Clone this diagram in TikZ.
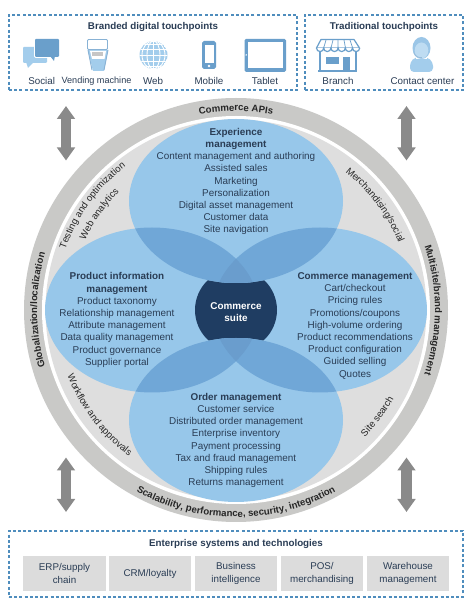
\documentclass[tikz,border=0pt]{standalone}
\usepackage{fontspec}
\setmainfont{Liberation Sans}
\usetikzlibrary{arrows.meta,decorations.text}
\definecolor{txt}{HTML}{2A3D55}
\definecolor{lblue}{HTML}{97C7EA}
\definecolor{mblue}{HTML}{70A7D7}
\definecolor{tblue}{HTML}{6A9DCD}
\definecolor{navy}{HTML}{1F3D62}
\definecolor{ringg}{HTML}{C9C9C7}
\definecolor{discg}{HTML}{DEDEDE}
\definecolor{arrowg}{HTML}{8A8A8A}
\definecolor{dashb}{HTML}{4F8DBD}
\definecolor{icond}{HTML}{6A9FCB}
\definecolor{iconl}{HTML}{A3CDEC}
\definecolor{boxg}{HTML}{DCDCDC}
\newcommand{\bsize}{\fontsize{9.9}{12.2}\selectfont}
\newcommand{\tsize}{\fontsize{9.8}{12.2}\selectfont}
\newcommand{\rsize}{\fontsize{9.6}{12}\selectfont}
\newcommand{\vendsize}{\fontsize{9.1}{12}\selectfont}
\newcommand{\elT}{(236,399) ellipse [x radius=107,y radius=82]}
\newcommand{\elB}{(236,180) ellipse [x radius=107,y radius=82]}
\newcommand{\elL}{(152,290) ellipse [x radius=107,y radius=82.5]}
\newcommand{\elR}{(320,290) ellipse [x radius=107,y radius=82.5]}
\tikzset{
  x=1pt,y=1pt,
  dashbox/.style={draw=dashb,line width=1.2pt,dash pattern=on 3pt off 2.2pt},
  head/.style={font=\bfseries\tsize,text=txt,inner sep=0pt},
  label/.style={font=\tsize,text=txt,inner sep=0pt},
  block/.style={font=\bsize,text=txt,align=center,inner sep=0pt},
  sysbox/.style={fill=boxg,font=\tsize,text=txt,align=center,inner sep=0pt},
  dbl/.style={draw=arrowg,line width=10.5pt,{Triangle[width=17.5pt,length=13pt]}-{Triangle[width=17.5pt,length=13pt]}},
  ringtext/.style={decorate,decoration={text along path,text align=center,text color=black!85,text={#1}}},
}
\begin{document}
\begin{tikzpicture}
\useasboundingbox (0,0) rectangle (474,600);
\fill[white] (0,0) rectangle (474,600);
\coordinate (c) at (236,290);
% top boxes
\node[dashbox,minimum width=288,minimum height=75,inner sep=0pt] (dig) at (153,547.5) {};
\node[dashbox,minimum width=158,minimum height=75,inner sep=0pt] (trad) at (384,547.5) {};
\node[head] (digt) at (153,573) {Branded digital touchpoints};
\node[head] (tradt) at (384,573) {Traditional touchpoints};
\node[label] (l1) at (41.7,519) {Social};
\node[label,font=\vendsize] (l2) at (96.5,519) {Vending machine};
\node[label] (l3) at (153,519) {Web};
\node[label] (l4) at (209,519) {Mobile};
\node[label] (l5) at (265,519) {Tablet};
\node[label] (l6) at (338,519) {Branch};
\node[label] (l7) at (422.5,519) {Contact center};
% social
\fill[iconl,rounded corners=1pt] (23,553) rectangle (47,537);
\fill[iconl] (26,538) -- (28,532) -- (34,538) -- cycle;
\fill[white,rounded corners=1.5pt] (34,562) rectangle (60,542);
\fill[icond,rounded corners=1pt] (35,561) rectangle (59,543);
\fill[icond] (50,544) -- (54,539) -- (55,544) -- cycle;
% vending
\fill[iconl] (88,550) -- (108,550) -- (104,529) -- (93,529) -- cycle;
\fill[white] (90,549) -- (106,549) -- (104.5,541) -- (92,541) -- cycle;
\fill[gray!45] (92,547.5) rectangle (103,544);
\draw[icond!80,fill=white,line width=.9pt,rounded corners=1pt] (87.5,560.5) rectangle (107.5,550.5);
\draw[icond!80,line width=.9pt] (88,550) -- (92,530) (108,550) -- (104,530);
% globe
\begin{scope}
\clip (153.5,545) circle (14);
\fill[iconl] (153.5,545) circle (14);
\draw[white,line width=.9pt] (153.5,545) ellipse [x radius=6.5,y radius=14];
\draw[white,line width=.9pt] (153.5,531) -- (153.5,559) (139,545) -- (168,545);
\draw[white,line width=.9pt] (139,551) -- (168,551) (139,539) -- (168,539) (139,556) -- (168,556) (139,534) -- (168,534);
\draw[white,line width=.9pt] (153.5,545) ellipse [x radius=11.5,y radius=14];
\end{scope}
% mobile
\fill[icond,rounded corners=1.8pt] (202,559) rectangle (216,531);
\fill[white] (204.5,555) rectangle (213.5,537);
\fill[white] (209,534) circle (1.3);
% tablet
\fill[icond,rounded corners=1.5pt] (244.5,561) rectangle (286,528);
\fill[white] (248,558) rectangle (282.5,531.5);
\fill[white] (246.2,545) circle (.8);
% branch
\draw[icond,line width=1.2pt] (320,549) -- (320,529) (356,549) -- (356,529);
\draw[icond,line width=1.6pt] (318,529) -- (357,529);
\fill[icond] (326,543) rectangle (339,536);
\fill[icond] (343,543) rectangle (350,529);
\draw[icond,line width=1.2pt,fill=white,line join=round] (321,560.5) -- (354,560.5) -- (359.5,552) -- (316.5,552) -- cycle;
\draw[icond,line width=1.2pt,fill=white] (316.5,552) arc[start angle=180,end angle=360,radius=3.6] arc[start angle=180,end angle=360,radius=3.6] arc[start angle=180,end angle=360,radius=3.6] arc[start angle=180,end angle=360,radius=3.6] arc[start angle=180,end angle=360,radius=3.6] arc[start angle=180,end angle=360,radius=3.6];
\draw[icond,line width=.7pt] (326,560) -- (323.7,552) (333,560) -- (331,552) (338,560) -- (338,552) (344,560) -- (345.5,552) (350,560) -- (352.7,552);
% contact
\fill[iconl,rounded corners=4pt] (410,528) -- (410,538) -- (415.5,543) -- (427,543) -- (433,538) -- (433,528) -- cycle;
\fill[white] (416,545.5) rectangle (427,541);
\fill[iconl!85!icond] (421.5,552) ellipse [x radius=9,y radius=11];
\fill[iconl!70!white] (421.5,549.5) ellipse [x radius=6.8,y radius=8];
\draw[icond!70,line width=.8pt] (414,547) arc[start angle=200,end angle=280,radius=7];
% central diagram
\fill[ringg] (c) circle (212);
\fill[white] (c) circle (194);
\fill[discg] (c) circle (190.5);
\fill[lblue] \elL;
\fill[lblue] \elR;
\fill[navy] (c) circle (41);
\fill[lblue] \elT;
\fill[lblue] \elB;
\begin{scope}\clip \elT; \fill[mblue] \elL; \fill[mblue] \elR; \clip \elL; \fill[tblue] \elR; \end{scope}
\begin{scope}\clip \elB; \fill[mblue] \elL; \fill[mblue] \elR; \clip \elL; \fill[tblue] \elR; \end{scope}
% ring labels
\path[ringtext={|\bfseries\rsize|Commerce APIs}] ([shift={(120:199)}]c) arc[start angle=120,end angle=60,radius=199];
\path[ringtext={|\bfseries\rsize|Globalization/localization}] ([shift={(225:199)}]c) arc[start angle=225,end angle=135,radius=199];
\path[ringtext={|\bfseries\rsize|Multisite/brand management}] ([shift={(45:199)}]c) arc[start angle=45,end angle=-45,radius=199];
\path[ringtext={|\bfseries\rsize|Scalability, performance, security, integration}] ([shift={(230:207)}]c) arc[start angle=230,end angle=310,radius=207];
% disc labels
\path[ringtext={|\rsize|Testing and optimization}] ([shift={(175:181)}]c) arc[start angle=175,end angle=113,radius=181];
\path[ringtext={|\rsize|Web analytics}] ([shift={(175:166)}]c) arc[start angle=175,end angle=115,radius=166];
\path[ringtext={|\rsize|Merchandising/social}] ([shift={(70:176)}]c) arc[start angle=70,end angle=4,radius=176];
\path[ringtext={|\rsize|Workflow and approvals}] ([shift={(185:181)}]c) arc[start angle=185,end angle=250,radius=181];
\path[ringtext={|\rsize|Site search}] ([shift={(-60:181)}]c) arc[start angle=-60,end angle=-14,radius=181];
% blocks
\node[block] (exp) at (236,418.5) {{\bfseries Experience}\\{\bfseries management}\\Content management and authoring\\Assisted sales\\Marketing\\Personalization\\Digital asset management\\Customer data\\Site navigation};
\node[block] (pim) at (117,280) {{\bfseries Product information}\\{\bfseries management}\\Product taxonomy\\Relationship management\\Attribute management\\Data quality management\\Product governance\\Supplier portal};
\node[block] (com) at (355,274.3) {{\bfseries Commerce management}\\Cart/checkout\\Pricing rules\\Promotions/coupons\\High-volume ordering\\Product recommendations\\Product configuration\\Guided selling\\Quotes};
\node[block] (ord) at (236,159.5) {{\bfseries Order management}\\Customer service\\Distributed order management\\Enterprise inventory\\Payment processing\\Tax and fraud management\\Shipping rules\\Returns management};
\node[block,text=white,font=\bfseries\bsize] (suite) at (236,288) {Commerce\\suite};
% arrows
\coordinate (a1) at (66,494); \coordinate (a2) at (66,439.5);
\coordinate (a3) at (406.5,494); \coordinate (a4) at (406.5,439.5);
\coordinate (a5) at (66,142.5); \coordinate (a6) at (66,88);
\coordinate (a7) at (406.5,142.5); \coordinate (a8) at (406.5,88);
\draw[dbl] (a1) -- (a2);
\draw[dbl] (a3) -- (a4);
\draw[dbl] (a5) -- (a6);
\draw[dbl] (a7) -- (a8);
% bottom
\node[dashbox,minimum width=454,minimum height=66,inner sep=0pt] (ent) at (236,36) {};
\node[head] (entt) at (236,56) {Enterprise systems and technologies};
\node[sysbox,minimum width=83,minimum height=35] (s1) at (64.5,26.5) {ERP/supply\\chain};
\node[sysbox,minimum width=82,minimum height=35] (s2) at (150,26.5) {CRM/loyalty};
\node[sysbox,minimum width=82,minimum height=35] (s3) at (236,26.5) {Business\\intelligence};
\node[sysbox,minimum width=82,minimum height=35] (s4) at (322,26.5) {POS/\\merchandising};
\node[sysbox,minimum width=82,minimum height=35] (s5) at (408,26.5) {Warehouse\\management};
\end{tikzpicture}
\end{document}
